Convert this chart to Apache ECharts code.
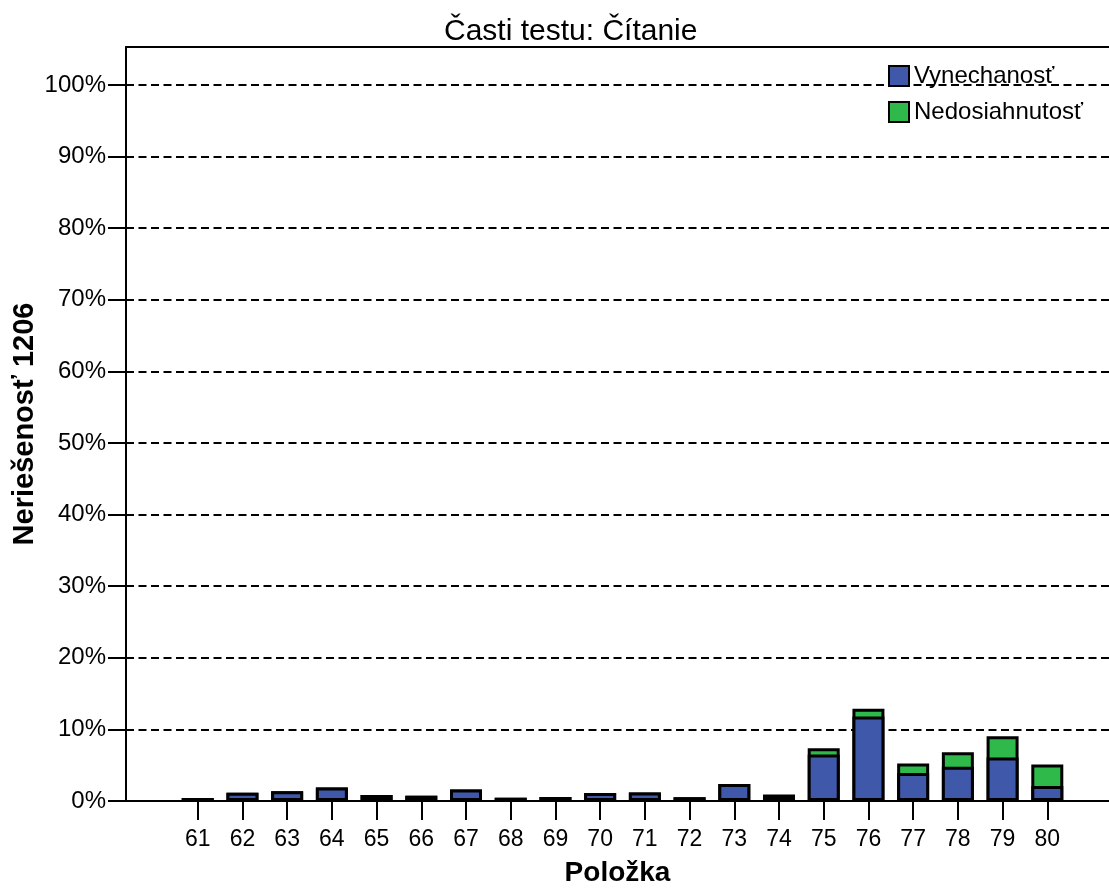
<!DOCTYPE html>
<html>
<head>
<meta charset="utf-8">
<script src="https://cdn.jsdelivr.net/npm/echarts@6/dist/echarts.min.js"></script>
<style>
html,body{margin:0;padding:0;background:#fff;}
#c{width:1109px;height:890px;}
</style>
</head>
<body>
<div id="c"></div>
<script>
const items = [61,62,63,64,65,66,67,68,69,70,71,72,73,74,75,76,77,78,79,80];
const vynechanost = [0.42,1.15,1.35,1.9,0.85,0.75,1.6,0.47,0.57,1.13,1.18,0.52,2.38,0.6,6.5,11.8,3.92,4.8,6.07,2.1];
const nedosiahnutost = [0,0,0,0,0,0,0,0,0,0,0,0,0,0.3,0.88,1.08,1.32,2.0,2.98,2.99];
const yTicks = [0,10,20,30,40,50,60,70,80,90,100];
const seriesNames = ['Vynechanosť','Nedosiahnutosť'];
const titleText = 'Časti testu: Čítanie';
const yName = 'Neriešenosť 1206';
const xName = 'Položka';

const FONT = "'Liberation Sans', Arial, sans-serif";
const blueData = items.map((x,i)=>[x, vynechanost[i]]);
const totalData = items.map((x,i)=>[x, vynechanost[i] + nedosiahnutost[i]]);

const chart = echarts.init(document.getElementById('c'), null, {renderer:'canvas'});
chart.setOption({
  animation:false,
  backgroundColor:'#fff',
  textStyle:{fontFamily:FONT, color:'#000'},
  title:{
    text:titleText, left:444, top:17, padding:0,
    textStyle:{fontFamily:FONT, fontSize:30, fontWeight:'normal', color:'#000'}
  },
  legend:{
    orient:'vertical', left:888, top:64, padding:0,
    itemWidth:20, itemHeight:20, itemGap:12,
    icon:'rect',
    data:seriesNames,
    textStyle:{fontFamily:FONT, fontSize:24, color:'#000'}
  },
  grid:{left:126, right:0, top:47, bottom:89, containLabel:false, outerBoundsMode:'none'},
  xAxis:[{
    type:'value', min:59.396, max:81.38,
    name:xName, nameLocation:'middle', nameGap:58, nameMoveOverlap:false,
    nameTextStyle:{fontFamily:FONT, fontSize:28, fontWeight:'bold', color:'#000'},
    axisLine:{show:true, lineStyle:{color:'#000', width:2}},
    axisTick:{show:true, customValues:items, length:19, lineStyle:{color:'#000', width:2}},
    axisLabel:{customValues:items, fontFamily:FONT, fontSize:23, color:'#000', margin:27},
    splitLine:{show:false}
  },{
    type:'value', position:'top', min:59.396, max:81.38,
    axisLine:{show:true, lineStyle:{color:'#000', width:2}},
    axisTick:{show:false}, axisLabel:{show:false}, splitLine:{show:false}
  }],
  yAxis:{
    type:'value', min:0, max:105.3,
    name:yName, nameLocation:'middle', nameGap:87, nameMoveOverlap:false,
    nameTextStyle:{fontFamily:FONT, fontSize:29, fontWeight:'bold', color:'#000'},
    axisLine:{show:true, lineStyle:{color:'#000', width:2}},
    axisTick:{show:true, customValues:yTicks, length:18, lineStyle:{color:'#000', width:2}},
    axisLabel:{customValues:yTicks, formatter:'{value}%', fontFamily:FONT, fontSize:24, color:'#000', margin:20},
    splitLine:{show:true, showMinLine:false, showMaxLine:true, lineStyle:{color:'#000', width:2, type:[8,4.5]}}
  },
  series:[
    {
      name:seriesNames[1], type:'bar', data:totalData, barWidth:32, barGap:'-100%',
      itemStyle:{color:'#2EB94A', borderColor:'#000', borderWidth:3}, z:2
    },
    {
      name:seriesNames[0], type:'bar', data:blueData, barWidth:32, barGap:'-100%',
      itemStyle:{color:'#3F58A9', borderColor:'#000', borderWidth:3}, z:3
    }
  ]
});
</script>
</body>
</html>
